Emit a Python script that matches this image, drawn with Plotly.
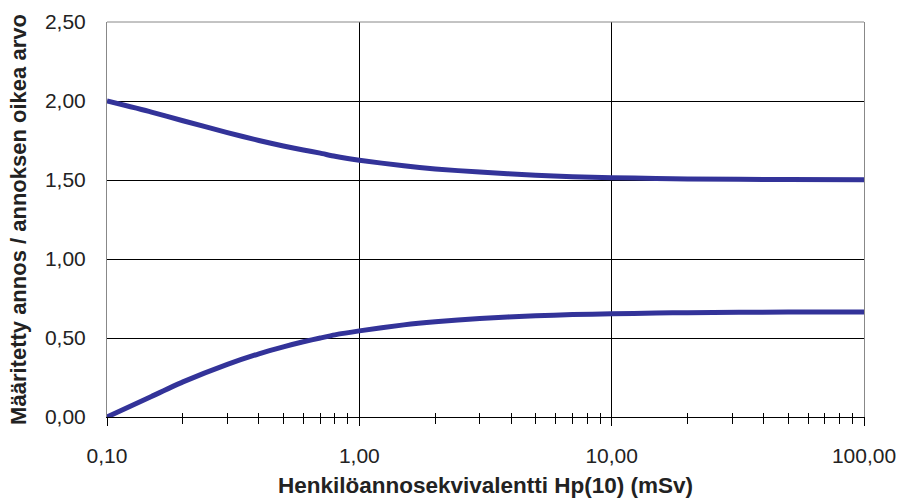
import plotly.graph_objects as go

# Data
dose = [0.1, 0.15, 0.2, 0.3, 0.4, 0.5, 0.6, 0.7, 0.8, 1.0, 1.5, 2.0, 3.0, 5.0, 7.0, 10.0, 15.0, 20.0, 50.0, 100.0]
upper = [2.00, 1.93, 1.875, 1.80, 1.75, 1.715, 1.69, 1.67, 1.65, 1.625, 1.59, 1.57, 1.55, 1.53, 1.52, 1.515, 1.51, 1.507, 1.503, 1.502]
lower = [0.00, 0.13, 0.222, 0.333, 0.40, 0.444, 0.476, 0.50, 0.52, 0.545, 0.583, 0.603, 0.624, 0.641, 0.648, 0.653, 0.658, 0.660, 0.664, 0.665]

x_tickvals = [0.1, 1, 10, 100]
x_ticktext = ["0,10", "1,00", "10,00", "100,00"]
y_tickvals = [0, 0.5, 1.0, 1.5, 2.0, 2.5]
y_ticktext = ["0,00", "0,50", "1,00", "1,50", "2,00", "2,50"]

x_title = "Henkilöannosekvivalentti Hp(10) (mSv)"
y_title = "Määritetty annos / annoksen oikea arvo"

LINE_COLOR = "#333399"
TXT = "#222222"
FONT = "Liberation Sans, Arial, sans-serif"

fig = go.Figure()
for ys in (upper, lower):
    fig.add_trace(go.Scatter(x=dose, y=ys, mode="lines",
                             line=dict(color=LINE_COLOR, width=5, shape="spline", smoothing=0.6),
                             showlegend=False, hoverinfo="skip"))

xr = [-1, 2]
fig.update_layout(
    width=899, height=498,
    margin=dict(l=107, r=35, t=22, b=81, autoexpand=False),
    paper_bgcolor="white", plot_bgcolor="white",
    font=dict(family=FONT, size=21, color=TXT),
    xaxis=dict(
        type="log", range=xr, automargin=False,
        tickmode="array", tickvals=x_tickvals, ticktext=x_ticktext,
        ticks="outside", ticklen=8, tickwidth=1, tickcolor="black",
        showline=True, linecolor="black", linewidth=1,
        showgrid=True, gridcolor="black", gridwidth=1,
        zeroline=False,
        ticklabelstandoff=12,
        minor=dict(ticks="outside", ticklen=6, tickwidth=1, tickcolor="black",
                   dtick="D1", showgrid=False),
        title=dict(text=x_title, font=dict(family=FONT, size=22.5, color=TXT, weight="bold"),
                   standoff=12),
    ),
    xaxis2=dict(
        type="log", range=xr, overlaying="x", anchor="y", side="bottom", automargin=False,
        tickmode="array", tickvals=x_tickvals, ticktext=["", "", "", ""],
        ticks="inside", ticklen=7, tickwidth=1, tickcolor="black",
        showline=False, showgrid=False, zeroline=False,
        minor=dict(ticks="inside", ticklen=4, tickwidth=1, tickcolor="black",
                   dtick="D1", showgrid=False),
    ),
    yaxis=dict(
        range=[0, 2.5], automargin=False,
        tickmode="array", tickvals=y_tickvals, ticktext=y_ticktext,
        ticks="", showline=True, linecolor="#888888", linewidth=1, mirror=True,
        showgrid=True, gridcolor="black", gridwidth=1,
        zeroline=False,
        ticklabelstandoff=16,
        title=dict(text=y_title, font=dict(family=FONT, size=22, color=TXT, weight="bold"),
                   standoff=12),
    ),
)
# invisible trace to activate xaxis2
fig.add_trace(go.Scatter(x=[dose[0]], y=[lower[0]], xaxis="x2", mode="markers",
                         marker=dict(opacity=0), showlegend=False, hoverinfo="skip"))
# top gray border
fig.add_shape(type="line", xref="paper", yref="paper", x0=0, x1=1, y0=1, y1=1,
              line=dict(color="#888888", width=1))

fig.write_html("out.html", config={"displayModeBar": False},
               post_script="document.body.style.margin='0';document.body.style.overflow='hidden';")
